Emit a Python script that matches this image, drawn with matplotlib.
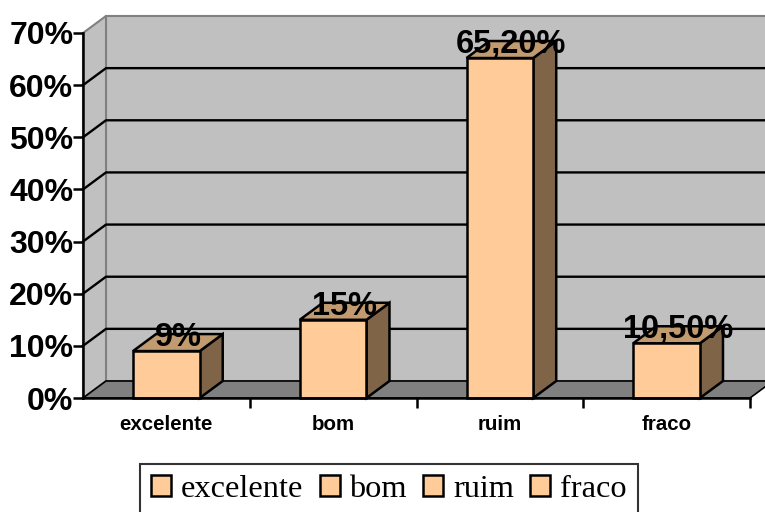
import matplotlib
matplotlib.use("Agg")
import matplotlib.pyplot as plt
from matplotlib.patches import Polygon, Patch

categories = ["excelente", "bom", "ruim", "fraco"]
values = [0.09, 0.15, 0.652, 0.105]
value_labels = ["9%", "15%", "65,20%", "10,50%"]
yticks = [0.0, 0.1, 0.2, 0.3, 0.4, 0.5, 0.6, 0.7]
ytick_labels = ["0%", "10%", "20%", "30%", "40%", "50%", "60%", "70%"]

front = "#FFCC99"
top_c = "#C29A6F"
side_c = "#806448"
wall = "#C0C0C0"
floor_c = "#808080"

fig = plt.figure(figsize=(7.65, 5.12), dpi=100)
ax = fig.add_axes([83/765, (512-398)/512, 667/765, 365/512])
x0, x1 = -0.5, len(categories) - 0.5
y0, y1 = 0.0, 0.7
ax.set_xlim(x0, x1)
ax.set_ylim(y0, y1)
ax.patch.set_visible(False)

# depth in data units (23px right, 17px up)
ddx = 23 / 667 * (x1 - x0)
ddy = 17 / 365 * (y1 - y0)

# back wall
ax.add_patch(Polygon([(x0+ddx, y0+ddy), (x1+ddx, y0+ddy), (x1+ddx, y1+ddy), (x0+ddx, y1+ddy)],
                     closed=True, facecolor=wall, edgecolor="#808080", lw=1.5, clip_on=False, zorder=0))
# left side wall
ax.add_patch(Polygon([(x0, y0), (x0+ddx, y0+ddy), (x0+ddx, y1+ddy), (x0, y1)],
                     closed=True, facecolor=wall, edgecolor="#808080", lw=1.5, clip_on=False, zorder=0.5))
# gridlines
for t in yticks[1:-1]:
    ax.plot([x0, x0+ddx, x1+ddx], [t, t+ddy, t+ddy], color="black", lw=1.7, clip_on=False, zorder=1)
# floor
ax.add_patch(Polygon([(x0, y0), (x1, y0), (x1+ddx, y0+ddy), (x0+ddx, y0+ddy)],
                     closed=True, facecolor=floor_c, edgecolor="black", lw=1.2, clip_on=False, zorder=1.5))

xs = list(range(len(categories)))
w = 0.4
ax.bar(xs, values, width=w, color=front, edgecolor="black", lw=1.8, zorder=3, clip_on=False)
for xi, v, lab in zip(xs, values, value_labels):
    r = xi + w/2
    l = xi - w/2
    ax.add_patch(Polygon([(r, 0), (r+ddx, ddy), (r+ddx, v+ddy), (r, v)], closed=True,
                         facecolor=side_c, edgecolor="black", lw=1.8, clip_on=False, zorder=2.9))
    ax.add_patch(Polygon([(l, v), (r, v), (r+ddx, v+ddy), (l+ddx, v+ddy)], closed=True,
                         facecolor=top_c, edgecolor="black", lw=1.8, clip_on=False, zorder=2.9))
    ax.text(xi + ddx/2, v + ddy*0.3, lab, ha="center", va="baseline",
            fontsize=23.5, fontweight="bold", family="Liberation Sans", zorder=5)

for s in ["top", "right"]:
    ax.spines[s].set_visible(False)
ax.spines["left"].set_linewidth(1.8)
ax.spines["bottom"].set_linewidth(1.8)
ax.spines["left"].set_zorder(4)
ax.spines["bottom"].set_zorder(4)

ax.set_yticks(yticks)
ax.set_yticklabels(ytick_labels, fontsize=23, fontweight="bold", family="Liberation Sans")
ax.tick_params(axis="y", length=7, width=1.8, pad=0)

ax.set_xticks(xs)
ax.set_xticklabels(categories, fontsize=14.8, fontweight="bold", family="Liberation Sans")
ax.tick_params(axis="x", which="major", length=0, pad=12)
ax.set_xticks([i + 0.5 for i in xs], minor=True)
ax.tick_params(axis="x", which="minor", length=7, width=1.8)

handles = [Patch(facecolor=front, edgecolor="black", lw=1.8, label=c) for c in categories]
leg = fig.legend(handles=handles, loc="upper left", bbox_to_anchor=(140/765, 1 - 464/512),
                 ncol=4, frameon=True, fancybox=False, prop={"family": "Liberation Serif", "size": 23.3},
                 handlelength=0.62, handleheight=0.62, handletextpad=0.3, columnspacing=0.5,
                 borderpad=0.35, borderaxespad=0)
leg.get_frame().set_edgecolor("black")
leg.get_frame().set_linewidth(1.5)

fig.savefig("out.png", dpi=100)
